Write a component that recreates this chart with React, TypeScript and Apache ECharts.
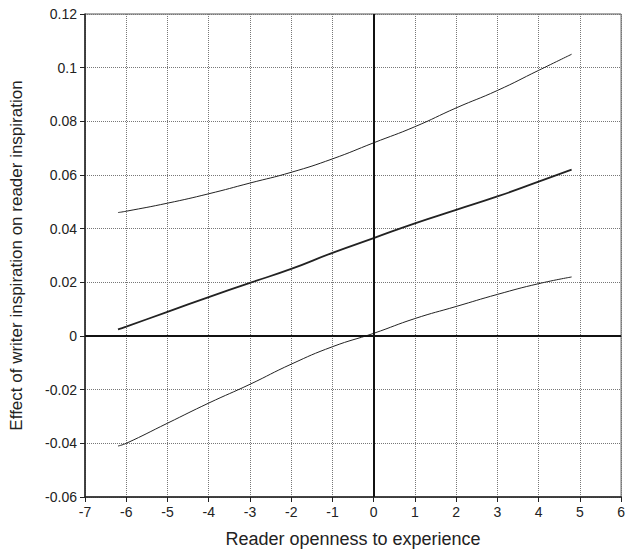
import React, { useEffect, useRef } from "react";
import * as echarts from "echarts";

const xs = [-6.2, -6, -5, -4, -3, -2, -1, 0, 1, 2, 3, 4, 4.8];
const estimate = [0.0025, 0.0035, 0.009, 0.0145, 0.0198, 0.025, 0.031, 0.0365, 0.042, 0.047, 0.052, 0.0575, 0.062];
const upper = [0.046, 0.0465, 0.0495, 0.053, 0.057, 0.061, 0.066, 0.072, 0.078, 0.085, 0.0915, 0.099, 0.105];
const lower = [-0.041, -0.04, -0.0325, -0.025, -0.018, -0.0105, -0.004, 0.001, 0.0065, 0.011, 0.0155, 0.0195, 0.022];

const xTicks = { min: -7, max: 6, interval: 1 };
const yTicks = { min: -0.06, max: 0.12, interval: 0.02 };

const pair = (ys: number[]) => xs.map((x, i) => [x, ys[i]]);

export default function App() {
  const ref = useRef<HTMLDivElement>(null);
  useEffect(() => {
    const chart = echarts.init(ref.current!, null, { renderer: "svg" });
    const font = "Liberation Sans, Arial, sans-serif";
    chart.setOption({
      animation: false,
      backgroundColor: "#fff",
      grid: { left: 83, right: 4, top: 14, bottom: 56, show: true, borderColor: "#555", borderWidth: 1 },
      xAxis: {
        type: "value",
        min: xTicks.min,
        max: xTicks.max,
        interval: xTicks.interval,
        name: "Reader openness to experience",
        nameLocation: "middle",
        nameGap: 33,
        nameTextStyle: { fontSize: 18, color: "#222", fontFamily: font },
        axisLine: { onZero: false, lineStyle: { color: "#222", width: 1.5 } },
        axisTick: { show: true, length: 5, lineStyle: { color: "#222" } },
        axisLabel: { fontSize: 14, color: "#222", fontFamily: font, margin: 8 },
        splitLine: { show: true, lineStyle: { type: "dotted", color: "#777", width: 1 } },
      },
      yAxis: {
        type: "value",
        min: yTicks.min,
        max: yTicks.max,
        interval: yTicks.interval,
        name: "Effect of writer inspiration on reader inspiration",
        nameLocation: "middle",
        nameGap: 60,
        nameTextStyle: { fontSize: 17, color: "#222", fontFamily: font },
        axisLine: { onZero: false, lineStyle: { color: "#222", width: 1.5 } },
        axisTick: { show: true, length: 5, lineStyle: { color: "#222" } },
        axisLabel: { fontSize: 14, color: "#222", fontFamily: font, margin: 8 },
        splitLine: { show: true, lineStyle: { type: "dotted", color: "#777", width: 1 } },
      },
      series: [
        {
          type: "line",
          data: pair(upper),
          symbol: "none",
          smooth: true,
          lineStyle: { color: "#222", width: 1 },
          markLine: {
            silent: true,
            symbol: "none",
            label: { show: false },
            lineStyle: { color: "#111", width: 2, type: "solid" },
            data: [{ xAxis: 0 }, { yAxis: 0 }],
          },
        },
        {
          type: "line",
          data: pair(estimate),
          symbol: "none",
          smooth: true,
          lineStyle: { color: "#222", width: 1.8 },
        },
        {
          type: "line",
          data: pair(lower),
          symbol: "none",
          smooth: true,
          lineStyle: { color: "#222", width: 1 },
        },
      ],
    });
    return () => chart.dispose();
  }, []);
  return <div ref={ref} style={{ width: 628, height: 553, position: "absolute", left: 0, top: 0 }} />;
}
